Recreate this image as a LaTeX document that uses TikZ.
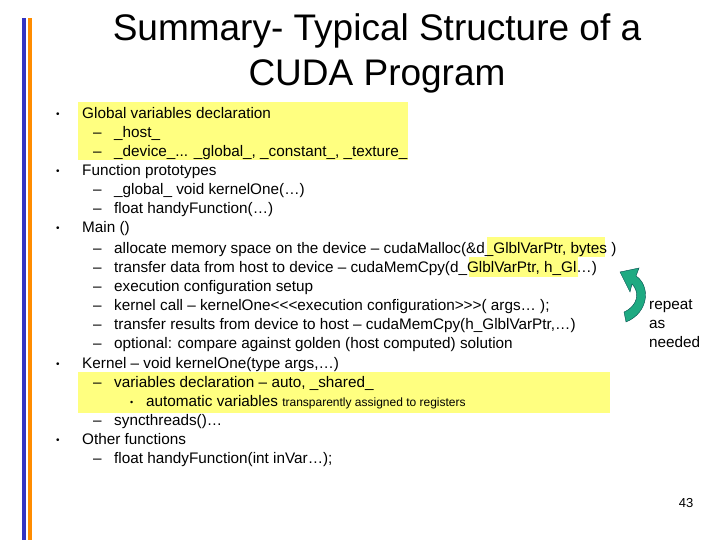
\documentclass[tikz,border=0pt]{standalone}
\usepackage{fontspec}
\setmainfont{Liberation Sans}
\definecolor{hly}{RGB}{255,255,128}
\definecolor{arr}{RGB}{30,170,130}
\begin{document}
\begin{tikzpicture}[x=1pt,y=-1pt,
  t/.style={anchor=base west,inner sep=0pt,font=\fontsize{15.3}{17}\selectfont},
  hl/.style={fill=hly,draw=none}]
\useasboundingbox (0,0) rectangle (720,540);
\fill[blue!70!black!80] (22,18) rectangle (26,540);
\fill[orange!90!yellow] (28,18) rectangle (32,540);
\fill[hl] (78,102) rectangle (408,160);
\fill[hl] (487,237) rectangle (605,257);
\fill[hl] (469,257) rectangle (578,277);
\fill[hl] (78,372) rectangle (610,413);
\node[font=\fontsize{37}{45}\selectfont,align=center] (title) at (377,53) {Summary- Typical Structure of a\\CUDA Program};
\foreach \y in {114,171,228,363,439}{\node[t,font=\fontsize{10}{12}\selectfont] at (56,\y+4) {\textbullet};}
\foreach \y/\txt in {114/Global variables declaration,171/Function prototypes,228/Main (),363/Kernel – void kernelOne(type args{,}…),439/Other functions}
  {\node[t] at (82,\y+5) {\txt};}
\foreach \y/\txt in {133/\_host\_,152/{\_device\_... \_global\_, \_constant\_, \_texture\_},190/\_global\_ void kernelOne(…),209/float handyFunction(…),
 248/{allocate memory space on the device – cudaMalloc(\&d\_GlblVarPtr, bytes )},267/{transfer data from host to device – cudaMemCpy(d\_GlblVarPtr, h\_Gl…)},
 286/execution configuration setup,305/{kernel call – kernelOne<\kern0pt<\kern0pt<execution configuration>\kern0pt>\kern0pt>( args… );},324/{transfer results from device to host – cudaMemCpy(h\_GlblVarPtr,…)},
 343/optional: compare against golden (host computed) solution,382/{variables declaration – auto, \_shared\_},420/syncthreads()…,458/float handyFunction(int inVar…);}
  {\node[t] at (93,\y+5) {–}; \node[t] at (114,\y+5) {\txt};}
\node[t,font=\fontsize{9}{11}\selectfont] at (130,405) {\textbullet};
\node[t] (av) at (146,406) {automatic variables \fontsize{12}{14}\selectfont transparently assigned to registers};
\node[anchor=north west,inner sep=0pt,align=left,font=\fontsize{15.3}{19}\selectfont] (rep) at (649,299) {repeat\\as\\needed};
\fill[arr,draw=teal!60!black,line width=0.4pt]
  (626,322) .. controls (650,312) and (650,285) .. (636,276) -- (639,268) -- (620,272) -- (630,292) -- (632,284)
  .. controls (640,292) and (638,306) .. (624,312) -- cycle;
\node[font=\fontsize{13}{15}\selectfont] (pg) at (686,503) {43};
\end{tikzpicture}
\end{document}
